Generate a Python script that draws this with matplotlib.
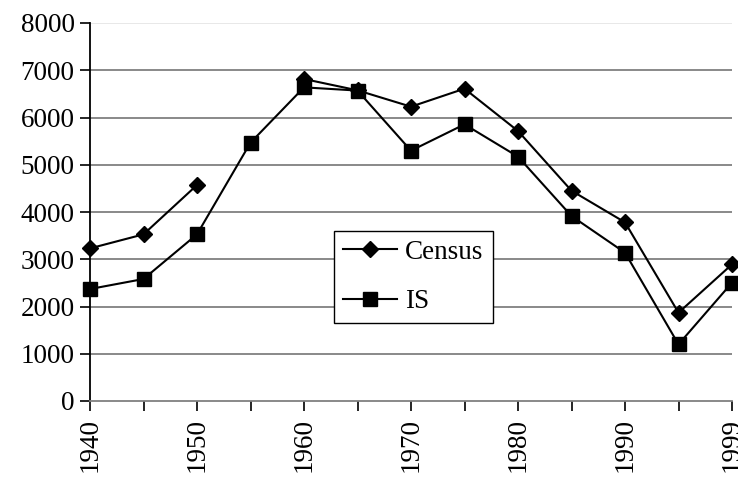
import numpy as np
import matplotlib
matplotlib.use("Agg")
import matplotlib.pyplot as plt

years = ["1940", "1945", "1950", "1955", "1960", "1965", "1970", "1975", "1980", "1985", "1990", "1995", "1999"]
census = [3230, 3527, 4571, np.nan, 6815, 6575, 6229, 6610, 5714, 4451, 3781, 1869, 2892]
is_vals = [2370, 2582, 3527, 5467, 6638, 6570, 5298, 5855, 5171, 3915, 3139, 1199, 2504]
tick_labels = ["1940", "", "1950", "", "1960", "", "1970", "", "1980", "", "1990", "", "1999"]
yticks = [0, 1000, 2000, 3000, 4000, 5000, 6000, 7000, 8000]

plt.rcParams['font.family'] = ['Liberation Serif', 'DejaVu Serif']
FS = 19.5

fig = plt.figure(figsize=(7.38, 4.8), dpi=100)
ax = fig.add_axes([90/738, 1-401/480, (732-90)/738, (401-23)/480])

x = np.arange(len(years))
ax.plot(x, census, color='black', lw=1.5, marker='D', markersize=8.5, label='Census', clip_on=False, zorder=3)
ax.plot(x, is_vals, color='black', lw=1.5, marker='s', markersize=10, label='IS', clip_on=False, zorder=3)

ax.set_xlim(0, len(years)-1)
ax.set_ylim(0, 8000)
ax.set_yticks(yticks)
ax.set_yticklabels([str(v) for v in yticks], fontsize=FS)
ax.set_xticks(x)
ax.set_xticklabels(tick_labels, rotation=90, fontsize=FS)

for v in yticks[1:-1]:
    ax.axhline(v, color='#808080', lw=1.3, zorder=1)
ax.axhline(8000, color='#e6e6e6', lw=1.3, zorder=1)

for s in ['top', 'right']:
    ax.spines[s].set_visible(False)
ax.spines['bottom'].set_color('#808080')
ax.spines['bottom'].set_linewidth(1.3)
ax.spines['left'].set_color('black')
ax.spines['left'].set_linewidth(1.3)
ax.tick_params(axis='both', direction='out', length=7, width=1.2, colors='black', pad=4)
ax.tick_params(axis='x', pad=5)

leg = ax.legend(loc='upper left', bbox_to_anchor=((334-90)/642, 1-(231-23)/378), fontsize=FS,
                frameon=True, fancybox=False, edgecolor='black', framealpha=1, borderaxespad=0,
                handlelength=2.0, borderpad=0.33, labelspacing=0.9, handletextpad=0.3)
leg.get_frame().set_linewidth(1.0)

fig.savefig("out.png", dpi=100)
